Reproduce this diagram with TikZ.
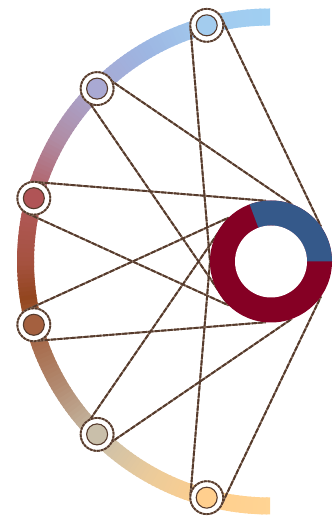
\documentclass[tikz,border=0pt]{standalone}
\usetikzlibrary{calc}
\pgfdeclarelayer{back}
\pgfdeclarelayer{mid}
\pgfsetlayers{back,mid,main}
\definecolor{s90}{HTML}{A0CFF2}
\definecolor{s105}{HTML}{A2CAEE}
\definecolor{s120}{HTML}{9DB6E2}
\definecolor{s135}{HTML}{A9A8D2}
\definecolor{s150}{HTML}{B08BA3}
\definecolor{s165}{HTML}{B2595C}
\definecolor{s180}{HTML}{A5523F}
\definecolor{s188}{HTML}{93461F}
\definecolor{s195}{HTML}{A3603F}
\definecolor{s210}{HTML}{B28A70}
\definecolor{s225}{HTML}{C9BFAA}
\definecolor{s240}{HTML}{EBCB9B}
\definecolor{s255}{HTML}{FFCF8E}
\definecolor{s270}{HTML}{FFD494}
\definecolor{c1}{HTML}{A3CCEE}
\definecolor{c2}{HTML}{A9A9D3}
\definecolor{c3}{HTML}{B05456}
\definecolor{c4}{HTML}{A4603F}
\definecolor{c5}{HTML}{C9BFAA}
\definecolor{c6}{HTML}{FFCF8E}
\definecolor{lnc}{HTML}{553A2C}
\definecolor{lnl}{HTML}{8E7565}
\definecolor{dred}{HTML}{850024}
\definecolor{dblue}{HTML}{35598A}
\tikzset{
  hub/.style={circle, minimum size=33pt, inner sep=0pt, outer sep=0pt, fill=white,
    draw=lnl, line width=1.8pt,
    postaction={draw=lnc, line width=1.8pt, dash pattern=on 2.5pt off 1.2pt}},
  dot/.style={circle, minimum size=21pt, inner sep=0pt, outer sep=0pt, draw=lnc, line width=1.1pt},
  link/.style={draw=lnl, line width=1.9pt,
    postaction={draw=lnc, line width=1.9pt, dash pattern=on 5pt off 1.5pt}},
  donutspot/.style={circle, minimum size=122pt, inner sep=0pt, outer sep=0pt}
}
\begin{document}
\begin{tikzpicture}[x=1pt,y=1pt]
\begin{scope}[shift={(270pt,254.5pt)}]
\useasboundingbox (-270pt,-254.5pt) rectangle (64pt,261.5pt);
% gradient band
\begin{pgfonlayer}{back}
\foreach \a/\b/\ca/\cb in {90/105/s90/s105,105/120/s105/s120,120/135/s120/s135,
  135/150/s135/s150,150/165/s150/s165,165/180/s165/s180,180/188/s180/s188,
  188/195/s188/s195,195/210/s195/s210,210/225/s210/s225,225/240/s225/s240,
  240/255/s240/s255,255/270/s255/s270}{
  \pgfmathtruncatemacro{\n}{\b-\a-1}
  \foreach \k in {0,...,\n}{
    \pgfmathtruncatemacro{\p}{100-100*\k/(\b-\a)}
    \pgfmathsetmacro{\s}{\a+\k}
    \pgfmathsetmacro{\e}{min(\a+\k+1.4,270)}
    \fill[fill={\ca!\p!\cb}] (\s:236pt) arc[start angle=\s, end angle=\e, radius=236pt]
      -- (\e:253pt) arc[start angle=\e, end angle=\s, radius=253pt] -- cycle;
  }
}
\end{pgfonlayer}
% nodes
\node[hub] (n1) at (105:244.5pt) {};
\node[hub] (n2) at (135:244.5pt) {};
\node[hub] (n3) at (165:244.5pt) {};
\node[hub] (n4) at (195:244.5pt) {};
\node[hub] (n5) at (225:244.5pt) {};
\node[hub] (n6) at (255:244.5pt) {};
\node[dot, fill=c1] (d1) at (n1) {};
\node[dot, fill=c2] (d2) at (n2) {};
\node[dot, fill=c3] (d3) at (n3) {};
\node[dot, fill=c4] (d4) at (n4) {};
\node[dot, fill=c5] (d5) at (n5) {};
\node[dot, fill=c6] (d6) at (n6) {};
\node[donutspot] (dn) at (1pt,0pt) {};
% links
\begin{pgfonlayer}{mid}
\path[link] (n1.190) -- (dn.180);
\path[link] (n1.20) -- (dn.35);
\path[link] (n2.85) -- (dn.70);
\path[link] (n2.245) -- (dn.226);
\path[link] (n3.75) -- (dn.95);
\path[link] (n3.245) -- (dn.226);
\path[link] (n4.115) -- (dn.134);
\path[link] (n4.285) -- (dn.265);
\path[link] (n5.115) -- (dn.134);
\path[link] (n5.275) -- (dn.290);
\path[link] (n6.170) -- (dn.180);
\path[link] (n6.340) -- (dn.325);
\end{pgfonlayer}
% donut
\fill[dred] (dn.center) circle (61pt);
\fill[dblue] ($(dn.center)+(0:36pt)$) -- ($(dn.center)+(0:61pt)$)
  arc[start angle=0, end angle=110.5, radius=61pt]
  -- ($(dn.center)+(110.5:36pt)$)
  arc[start angle=110.5, end angle=0, radius=36pt] -- cycle;
\fill[white] (dn.center) circle (36pt);
\end{scope}
\end{tikzpicture}
\end{document}
